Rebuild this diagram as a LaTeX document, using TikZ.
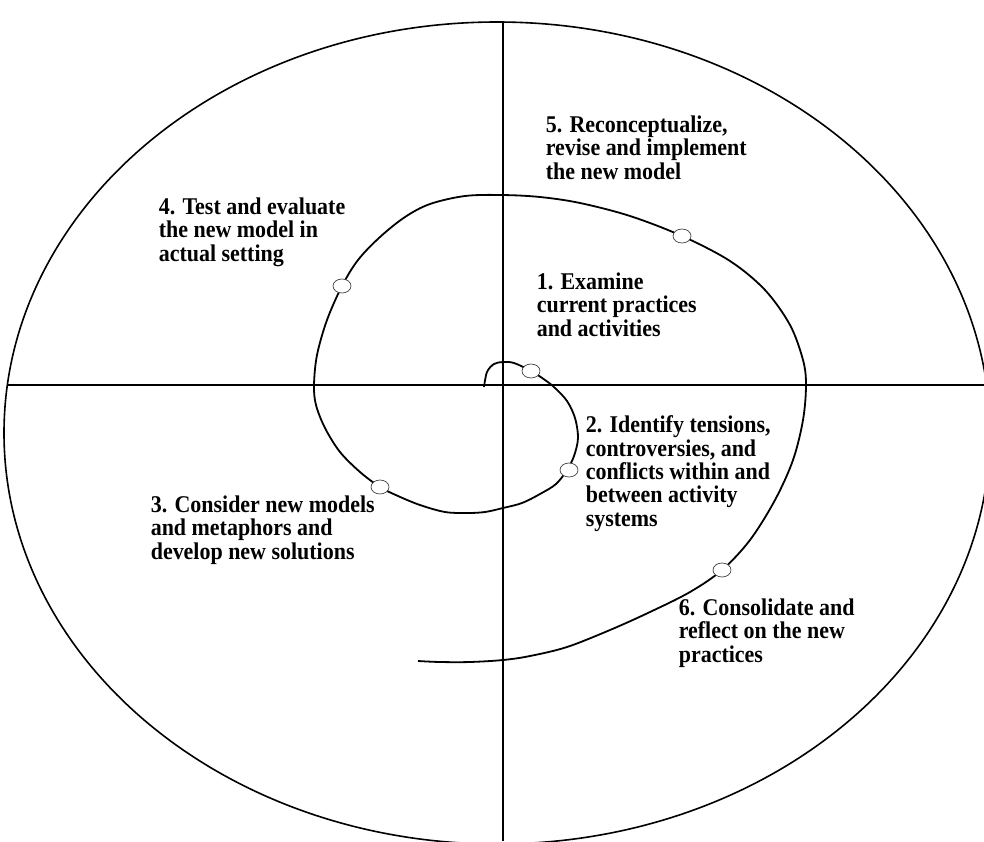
\documentclass[tikz,border=0pt]{standalone}
\usepackage{fontspec}
\setmainfont{Liberation Serif}[FakeStretch=0.915]
\usetikzlibrary{shapes.geometric}

\tikzset{
  stage/.style={anchor=north west, inner sep=0pt, align=left,
    font=\fontsize{24}{23.4}\selectfont\bfseries},
  knot/.style={ellipse, draw=black!75, line width=0.7pt, fill=white,
    minimum width=18pt, minimum height=14pt, inner sep=0pt}
}

\begin{document}
\begin{tikzpicture}[x=1pt, y=-1pt, line width=1.6pt]
    % Khung hình
    \useasboundingbox (0,0) rectangle (984,841);
    \clip (0,0) rectangle (984,841);

    % 1. Vòng elip ngoài
    \draw (497,433) ellipse [x radius=493, y radius=411];

    % 2. Hai trục chia bốn phần
    \draw (8,385) -- (984,385);
    \draw (503,22) -- (503,841);

    % 3. Đường xoắn ốc
    \draw[line width=1.8pt, smooth, tension=0.55] plot coordinates {
        (484,387) (487,372) (494,364) (503,362) (514,363) (531,371)
        (545,380) (555,388) (567,401) (575,418) (578,438) (574,456)
        (567,470) (556,484) (540,494) (522,503) (503,508) (485,512)
        (467,513) (445,512) (420,505) (398,496) (380,487) (360,472)
        (340,452) (325,428) (316,405) (314,385) (317,355) (327,320)
        (342,286) (358,260) (380,237) (405,217) (430,204) (465,196)
        (502,195) (540,197) (580,203) (630,216) (682,236) (730,261)
        (765,290) (790,325) (803,360) (806,385) (803,420) (793,460)
        (775,500) (750,540) (722,570) (690,592) (650,612) (610,630)
        (567,647) (530,656) (503,660) (470,662) (440,662) (418,661)};

    % 4. Các điểm mốc trên đường xoắn
    \node[knot] (k1) at (531,371) {};
    \node[knot] (k2) at (569,470) {};
    \node[knot] (k3) at (380,487) {};
    \node[knot] (k4) at (342,286) {};
    \node[knot] (k5) at (682,236) {};
    \node[knot] (k6) at (722,570) {};

    % 5. Nhãn các bước
    \node[stage] (s1) at (536,272) {1. Examine\\current practices\\and activities};
    \node[stage] (s2) at (585,415) {2. Identify tensions,\\controversies, and\\conflicts within and\\between activity\\systems};
    \node[stage] (s3) at (150,495) {3. Consider new models\\and metaphors and\\develop new solutions};
    \node[stage] (s4) at (158,197) {4. Test and evaluate\\the new model in\\actual setting};
    \node[stage] (s5) at (545,115) {5. Reconceptualize,\\revise and implement\\the new model};
    \node[stage] (s6) at (678,598) {6. Consolidate and\\reflect on the new\\practices};
\end{tikzpicture}
\end{document}
